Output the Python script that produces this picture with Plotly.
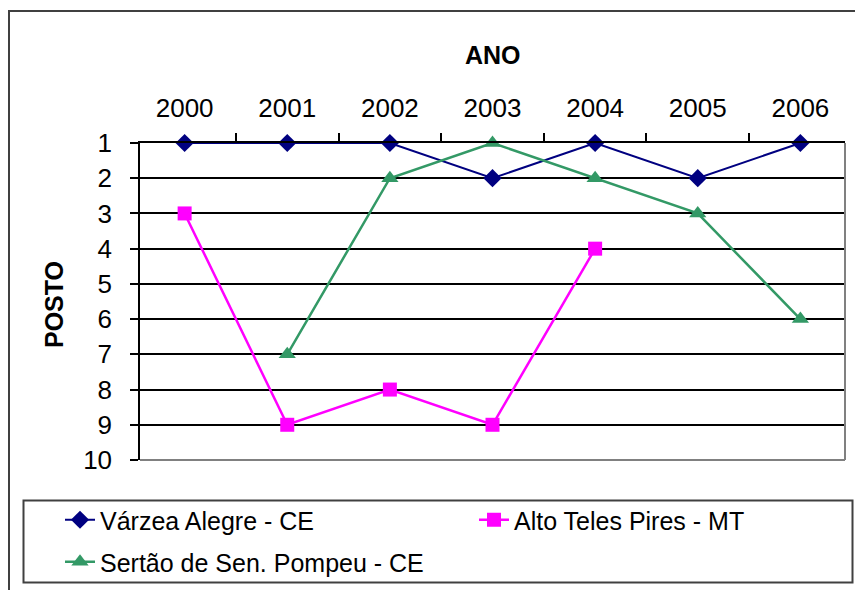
import plotly.graph_objects as go

years = ["2000", "2001", "2002", "2003", "2004", "2005", "2006"]
varzea = [1, 1, 1, 2, 1, 2, 1]
alto = [3, 9, 8, 9, 4, None, None]
sertao = [None, 7, 2, 1, 2, 3, 6]
rank_ticks = [1, 2, 3, 4, 5, 6, 7, 8, 9, 10]

# window coordinates (the page body has an 8px margin)
OFF = 8
W, H = 863, 590
L, R, T, B = 140, 845, 143, 460
PW, PH = R - L, B - T


def px(x):
    return (x - L) / PW


def py(y):
    return 1 - (y - T) / PH


FONT = "Liberation Sans, Arial, sans-serif"

fig = go.Figure()
fig.add_trace(go.Scatter(
    x=years, y=varzea, name="Várzea Alegre - CE", mode="lines+markers",
    line=dict(color="#000080", width=2),
    marker=dict(symbol="diamond", size=14, color="#000080"),
    cliponaxis=False, legend="legend"))
fig.add_trace(go.Scatter(
    x=years, y=alto, name="Alto Teles Pires - MT", mode="lines+markers",
    line=dict(color="#FF00FF", width=2.5),
    marker=dict(symbol="square", size=14, color="#FF00FF"),
    cliponaxis=False, legend="legend2"))
fig.add_trace(go.Scatter(
    x=years, y=sertao, name="Sertão de Sen. Pompeu - CE", mode="lines+markers",
    line=dict(color="#339966", width=2.5),
    marker=dict(symbol="triangle-up", size=15, color="#339966"),
    cliponaxis=False, legend="legend3"))

leg_common = dict(font=dict(family=FONT, size=25, color="black"),
                  bgcolor="rgba(0,0,0,0)", borderwidth=0,
                  xanchor="left", yanchor="middle")

fig.update_layout(
    width=W - OFF, height=H - OFF,
    margin=dict(l=L - OFF, r=W - R, t=T - OFF, b=H - B, autoexpand=False),
    paper_bgcolor="white", plot_bgcolor="white",
    font=dict(family=FONT, color="black"),
    showlegend=True,
    legend=dict(x=px(60), y=py(520), **leg_common),
    legend2=dict(x=px(474), y=py(520), **leg_common),
    legend3=dict(x=px(60), y=py(562), **leg_common),
    xaxis=dict(
        type="category", side="top", tickson="boundaries",
        ticks="outside", ticklen=8, tickcolor="black", tickwidth=1.5,
        showline=True, linecolor="black", linewidth=1.5, automargin=False,
        showgrid=False, tickfont=dict(family=FONT, size=26, color="black"),
        ticklabelstandoff=14,
    ),
    yaxis=dict(
        range=[10, 1], tickvals=rank_ticks, automargin=False,
        ticks="outside", ticklen=8, tickcolor="black", tickwidth=1.5,
        showline=True, linecolor="black", linewidth=1.5,
        showgrid=True, gridcolor="black", gridwidth=1.5, zeroline=False,
        tickfont=dict(family=FONT, size=26, color="black"),
        ticklabelstandoff=13,
    ),
    annotations=[
        dict(text="<b>ANO</b>", x=px(493), y=py(55), xref="paper", yref="paper",
             showarrow=False, font=dict(family=FONT, size=25, color="black"),
             xanchor="center", yanchor="middle"),
        dict(text="<b>POSTO</b>", x=px(54), y=py(305), xref="paper", yref="paper",
             showarrow=False, textangle=-90,
             font=dict(family=FONT, size=25, color="black"),
             xanchor="center", yanchor="middle"),
    ],
    shapes=[
        dict(type="rect", xref="paper", yref="paper",
             x0=px(9), x1=px(880), y0=py(11), y1=py(610),
             line=dict(color="#404040", width=2), layer="below"),
        dict(type="rect", xref="paper", yref="paper",
             x0=px(23.5), x1=px(852.5), y0=py(500.5), y1=py(582.5),
             line=dict(color="#404040", width=2), layer="below"),
        dict(type="line", xref="paper", yref="paper", x0=1, x1=1, y0=0, y1=1,
             line=dict(color="#808080", width=2), layer="above"),
        dict(type="line", xref="paper", yref="paper", x0=0, x1=1, y0=0, y1=0,
             line=dict(color="#808080", width=2), layer="above"),
    ],
)

fig.write_html("out.html")
